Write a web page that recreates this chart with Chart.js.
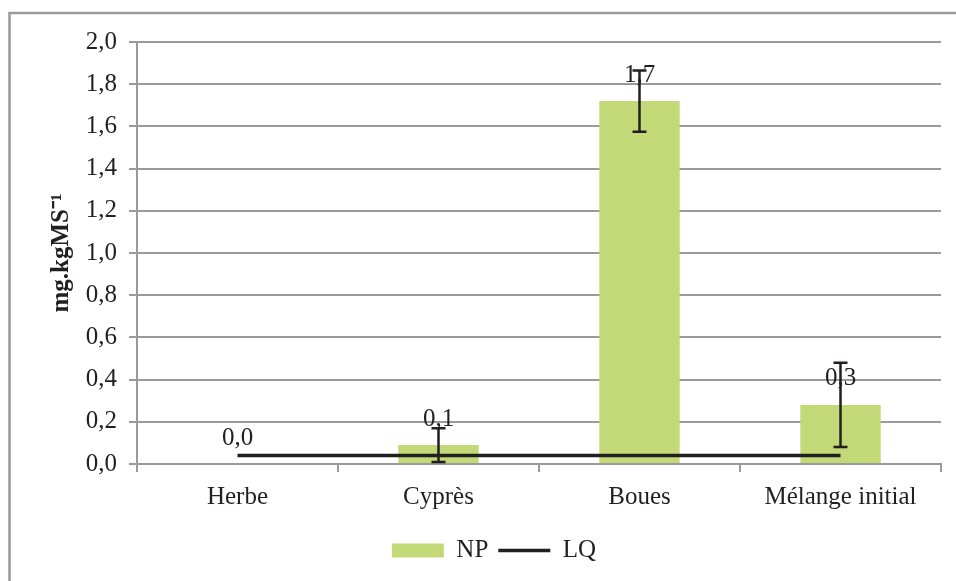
<!DOCTYPE html>
<html>
<head>
<meta charset="utf-8">
<script src="https://cdn.jsdelivr.net/npm/chart.js@4/dist/chart.umd.min.js"></script>
<style>
  body { margin: 0; background: #fff; }
  canvas { display: block; }
</style>
</head>
<body>
<canvas id="npChart" width="956" height="581"></canvas>
<script>
const categories = ['Herbe', 'Cyprès', 'Boues', 'Mélange initial']
const npValues = [0, 0.09, 1.72, 0.28]
const npErrors = [0, 0.08, 0.145, 0.2]
const lqValues = [0.04, 0.04, 0.04, 0.04]

const textColor = '#231f20'
const gridColor = '#9a9a9a'
const fmt = (v) => v.toFixed(1).replace('.', ',')

Chart.defaults.font.family = "'Liberation Serif', 'Times New Roman', serif"
Chart.defaults.color = textColor

// cadre gris en haut et à gauche
const framePlugin = {
  id: 'frame',
  beforeDraw(chart) {
    const c = chart.ctx
    c.save()
    c.strokeStyle = gridColor
    c.lineWidth = 2.5
    c.beginPath()
    c.moveTo(956, 13)
    c.lineTo(9.5, 13)
    c.lineTo(9.5, 581)
    c.stroke()
    c.restore()
  },
}

// étiquettes de valeur + barres d'erreur
const barExtras = {
  id: 'barExtras',
  afterDatasetsDraw(chart) {
    const c = chart.ctx
    const y = chart.scales.y
    const bars = chart.getDatasetMeta(1).data
    c.save()
    c.fillStyle = textColor
    c.font = "25px 'Liberation Serif'"
    c.textAlign = 'center'
    c.textBaseline = 'middle'
    bars.forEach((bar, i) => {
      c.fillText(fmt(npValues[i]), bar.x, y.getPixelForValue(npValues[i]) - 26)
    })
    c.strokeStyle = textColor
    c.lineWidth = 2.5
    bars.forEach((bar, i) => {
      if (!npErrors[i]) return
      const top = y.getPixelForValue(npValues[i] + npErrors[i])
      const bot = y.getPixelForValue(npValues[i] - npErrors[i])
      c.beginPath()
      c.moveTo(bar.x, top)
      c.lineTo(bar.x, bot)
      c.moveTo(bar.x - 7, top)
      c.lineTo(bar.x + 7, top)
      c.moveTo(bar.x - 7, bot)
      c.lineTo(bar.x + 7, bot)
      c.stroke()
    })
    c.restore()
  },
}

new Chart(document.getElementById('npChart'), {
  type: 'bar',
  data: {
    labels: categories,
    datasets: [
      {
        type: 'line',
        label: 'LQ',
        data: lqValues,
        borderColor: textColor,
        borderWidth: 3.5,
        pointRadius: 0,
        order: 0,
      },
      {
        label: 'NP',
        data: npValues,
        backgroundColor: '#c3d977',
        barPercentage: 0.4,
        categoryPercentage: 1,
        order: 1,
      },
    ],
  },
  options: {
    responsive: false,
    animation: false,
    layout: { padding: { left: 47, top: 42, right: 15, bottom: 8 } },
    plugins: {
      tooltip: { enabled: false },
      legend: {
        position: 'bottom',
        labels: {
          usePointStyle: true,
          pointStyleWidth: 52,
          boxHeight: 14,
          padding: 10,
          font: { size: 25 },
          generateLabels: () => [
            { text: 'NP', fillStyle: '#c3d977', strokeStyle: '#c3d977', lineWidth: 0, pointStyle: 'rect', datasetIndex: 1, fontColor: textColor },
            { text: 'LQ', fillStyle: textColor, strokeStyle: textColor, lineWidth: 3.5, pointStyle: 'line', datasetIndex: 0, fontColor: textColor },
          ],
        },
      },
    },
    scales: {
      x: {
        afterFit(scale) { scale.height = 64 },
        grid: { offset: true, drawOnChartArea: false, color: gridColor, lineWidth: 2, tickLength: 8 },
        border: { color: gridColor, width: 2 },
        ticks: { font: { size: 25 }, padding: 10, maxRotation: 0 },
      },
      y: {
        min: 0,
        max: 2,
        afterFit(scale) { scale.width = 90 },
        grid: { color: gridColor, lineWidth: 2, tickLength: 8 },
        border: { color: gridColor, width: 2 },
        ticks: { stepSize: 0.2, font: { size: 25 }, padding: 12, callback: (v) => fmt(v) },
        title: {
          display: true,
          text: 'mg.kgMS⁻¹',
          font: { size: 25, weight: 'bold' },
          padding: { top: 0, bottom: 0 },
        },
      },
    },
  },
  plugins: [framePlugin, barExtras],
})
</script>
</body>
</html>
